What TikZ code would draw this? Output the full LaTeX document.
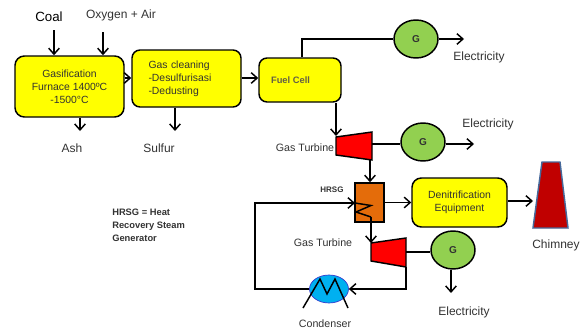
\documentclass[tikz,border=0pt]{standalone}
\usepackage{fontspec}
\setmainfont{Liberation Sans}
\usepackage{tikz}
\usetikzlibrary{arrows.meta, positioning, calc, shapes.geometric}
\definecolor{boxyellow}{RGB}{255,255,0}
\definecolor{gengreen}{RGB}{146,208,80}
\definecolor{hrsgorange}{RGB}{228,108,10}
\definecolor{chimneyred}{RGB}{192,0,0}
\definecolor{chimneyedge}{RGB}{70,105,155}
\definecolor{condblue}{RGB}{0,176,240}
\definecolor{textgrey}{RGB}{50,50,50}
\newlength{\pxunit}
\setlength{\pxunit}{0.75pt}
\tikzset{
    process/.style={draw=black, fill=boxyellow, rounded corners=7pt, line width=1.1pt, inner sep=0pt, align=center, font=\fontsize{7.8}{9.8}\selectfont, text=textgrey},
    generator/.style={draw=black, fill=gengreen, ellipse, line width=1.1pt, minimum width=44\pxunit, minimum height=38\pxunit, inner sep=0pt, font=\fontsize{7.5}{9}\selectfont\bfseries, text=textgrey},
    label/.style={font=\fontsize{9}{11}\selectfont, text=textgrey, inner sep=0pt},
    flow/.style={->, >={Straight Barb[length=4.5pt,width=8pt]}, line width=1.1pt},
    pipe/.style={line width=1.1pt}
}
\begin{document}
\begin{tikzpicture}[x=0.75pt, y=-0.75pt]
    \useasboundingbox (0,0) rectangle (586,332);

    % Process boxes
    \node[process, minimum width=109\pxunit, minimum height=61\pxunit] (furnace) at (69.5,86.5) {Gasification\\Furnace 1400ºC\\-1500°C};
    \node[process, minimum width=109\pxunit, minimum height=57\pxunit, text width=76\pxunit, align=left, rounded corners=6pt] (cleaning) at (186.5,78.5) {Gas cleaning\\-Desulfurisasi\\-Dedusting};
    \node[process, minimum width=82\pxunit, minimum height=44\pxunit, rounded corners=6pt, font=\fontsize{7}{8}\selectfont\bfseries, text=black!70!yellow] (fuelcell) at (300,80) {\hspace{-19\pxunit}Fuel Cell};
    \node[process, minimum width=95\pxunit, minimum height=49\pxunit] (denox) at (459.5,202.5) {Denitrification\\Equipment};

    % Generators
    \node[generator] (gen1) at (416,39) {G};
    \node[generator] (gen2) at (423,142) {G};
    \node[generator] (gen3) at (453,250) {G};

    % Turbines
    \draw[pipe, fill=red] (336,137) -- (372,132) -- (372,160) -- (336,155) -- cycle;
    \draw[pipe, fill=red] (371,243) -- (406,238) -- (406,267) -- (371,261) -- cycle;

    % HRSG
    \node[draw=black, fill=hrsgorange, line width=1.1pt, minimum width=29\pxunit, minimum height=39\pxunit, inner sep=0pt] (hrsg) at (369.5,202.5) {};

    % Chimney
    \draw[draw=chimneyedge, fill=chimneyred, line width=1.1pt] (533,228) -- (542,162) -- (560,162) -- (568,228) -- cycle;

    % Condenser
    \node[draw=blue!60!gray, fill=condblue, ellipse, line width=0.5pt, minimum width=39\pxunit, minimum height=28\pxunit, inner sep=0pt] (condenser) at (329,289) {};
    \draw[pipe] (303,308) -- (320,279) -- (327,294) -- (335,279) -- (348,308);

    % Labels
    \node[label, font=\fontsize{10}{12}\selectfont, text=black] (coal) at (49,17) {Coal};
    \node[label] (oxygen) at (121,15) {Oxygen + Air};
    \node[label] (ash) at (72,148) {Ash};
    \node[label] (sulfur) at (159,148) {Sulfur};
    \node[label, font=\fontsize{8}{10}\selectfont] (gt1) at (305,148) {Gas Turbine};
    \node[label, font=\fontsize{8}{10}\selectfont] (gt2) at (323,243) {Gas Turbine};
    \node[label, font=\fontsize{6}{7}\selectfont\bfseries] (hrsglabel) at (332,190) {HRSG};
    \node[label] (elec1) at (479,57) {Electricity};
    \node[label] (elec2) at (488,124) {Electricity};
    \node[label] (elec3) at (464,312) {Electricity};
    \node[label] (chimney) at (556,245) {Chimney};
    \node[label, font=\fontsize{8}{10}\selectfont] (condlabel) at (325,324) {Condenser};
    \node[label, font=\fontsize{7}{9.8}\selectfont\bfseries, align=left, anchor=north west] (note) at (112,209) {HRSG = Heat\\Recovery Steam\\Generator};

    % Free ends
    \coordinate (coalin) at (54,30);
    \coordinate (oxyin) at (103,32);
    \coordinate (ashout) at (80,131);
    \coordinate (sulfurout) at (175,131);
    \coordinate (gasrow) at (0,78);
    \coordinate (cellup) at (302,0);
    \coordinate (elec1out) at (464,39);
    \coordinate (tur1in) at (336,136);
    \coordinate (tur1out) at (372,144);
    \coordinate (elec2out) at (474,144);
    \coordinate (tur1down) at (370,160);
    \coordinate (chimin) at (533,201);
    \coordinate (tur2in) at (371,243);
    \coordinate (tur2out) at (406,252);
    \coordinate (tur2down) at (406,267);
    \coordinate (elec3out) at (451,293);
    \coordinate (loopleft) at (255,203);
    \coordinate (coilin) at (355,203);
    \coordinate (coilend) at (371,217);

    % Connectors
    \draw[flow] (coalin) -- (coalin |- furnace.north);
    \draw[flow] (oxyin) -- (oxyin |- furnace.north);
    \draw[flow] (ashout |- furnace.south) -- (ashout);
    \draw[flow] (sulfurout |- cleaning.south) -- (sulfurout);
    \draw[flow] (furnace.east |- gasrow) -- (cleaning.west |- gasrow);
    \draw[flow] (cleaning.east |- gasrow) -- (fuelcell.west |- gasrow);
    \draw[pipe] (cellup |- fuelcell.north) |- (gen1.west);
    \draw[flow] (gen1.east) -- (elec1out);
    \draw[flow] (tur1in |- fuelcell.south) -- (tur1in);
    \draw[pipe] (tur1out) -- (gen2.west |- tur1out);
    \draw[flow] (gen2.east |- tur1out) -- (elec2out);
    \draw[flow] (tur1down) -- (tur1down |- hrsg.north);
    \draw[flow] (hrsg.east) -- (denox.west);
    \draw[flow] (denox.east |- chimin) -- (chimin);
    \draw[pipe] (tur2out) -- (gen3.west |- tur2out);
    \draw[flow] (elec3out |- gen3.south) -- (elec3out);
    \draw[flow] (tur2down) |- (condenser.east);
    \draw[flow] (condenser.west) -| (loopleft) -- (coilin);
    \draw[pipe] (coilin) -- (371,205.5) -- (356,212) -- (coilend);
    \draw[flow] (coilend) -- (tur2in);
\end{tikzpicture}
\end{document}
